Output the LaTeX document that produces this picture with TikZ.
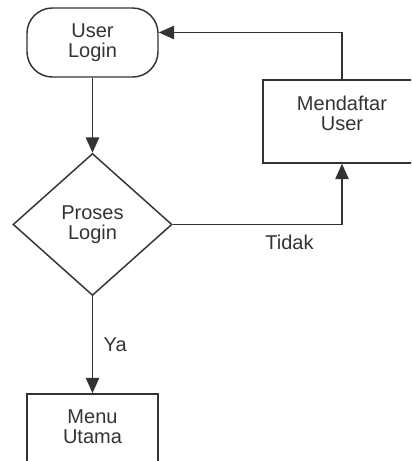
\documentclass[tikz,border=0pt]{standalone}
\usepackage{fontspec}
\setmainfont{Liberation Sans}
\usepackage{xcolor}
\usetikzlibrary{shapes,arrows.meta,positioning}
\definecolor{ink}{HTML}{333333}

\begin{document}
\begin{tikzpicture}[
    x=0.75pt, y=-0.75pt,
    every node/.style={font=\fontsize{15}{15}\selectfont, text=ink},
    startbox/.style={rectangle, rounded corners=19pt, draw=ink, line width=1.1pt, minimum width=98.25pt, minimum height=51.75pt, align=center},
    decision/.style={diamond, draw=ink, line width=1.1pt, minimum width=119.25pt, minimum height=106.5pt, inner sep=0pt, align=center},
    procbox/.style={rectangle, draw=ink, line width=1.1pt, minimum height=62.25pt},
    lbl/.style={align=center},
    arrow/.style={-{Triangle[length=11.5pt,width=10pt]}, draw=ink, line width=1.1pt}
]
    \useasboundingbox (0,0) rectangle (411,461);
    \clip (0,0) rectangle (411,461);

    % Start
    \node[startbox] (start) at (92.5,42.5) {User\\Login};

    % Decision
    \node[decision, below=56.25pt of start] (cek) {Proses\\Login};

    % Main menu
    \node[procbox, minimum width=98.25pt, below=72.75pt of cek] (menu) {};
    \node[lbl] (menutxt) at ([yshift=6.4pt]menu.center) {Menu\\Utama};

    % Registration
    \node[procbox, minimum width=118.5pt] (daftar) at (342,121.5) {};
    \node[lbl] (daftartxt) at ([yshift=6.4pt]daftar.center) {Mendaftar\\User};

    % Arrows
    \draw[arrow] (start) -- (cek);
    \draw[arrow] (cek) -- node[right=4.5pt] {Ya} (menu);
    \draw[arrow] (cek.east) -| node[pos=0.345, below=4pt] {Tidak} (daftar.south);
    \draw[arrow] (daftar.north) |- ([yshift=7.5pt]start.east);
\end{tikzpicture}
\end{document}
